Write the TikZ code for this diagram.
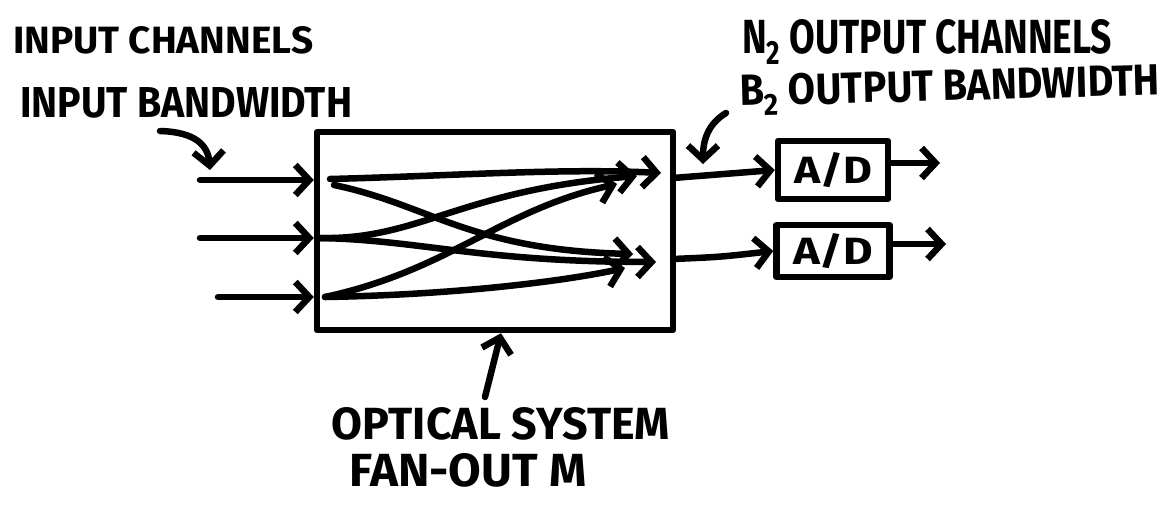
\documentclass[tikz,border=0pt]{standalone}
\usepackage{fontspec}
\setmainfont{Fira Sans}
\usetikzlibrary{arrows.meta}
\begin{document}
\begin{tikzpicture}[x=1pt,y=-1pt,
  ink/.style={line width=6.5pt, line cap=round, line join=round},
  arr/.style={ink, -{Straight Barb[length=14pt,width=30pt,line width=6.5pt]}},
  box/.style={ink, draw, rectangle, inner sep=0pt},
  lbl/.style={inner sep=0pt, font=\bfseries\fontsize{34}{38}\selectfont},
  adlbl/.style={font=\bfseries\fontsize{30}{34}\selectfont}]
\useasboundingbox (0,0) rectangle (1172,514);
% labels
\node[lbl, anchor=base west] (tin1) at (13,53) {\resizebox{300pt}{27pt}{INPUT CHANNELS}};
\node[lbl, anchor=base west] (tin2) at (20,117) {\resizebox{332pt}{30pt}{INPUT BANDWIDTH}};
\node[lbl, anchor=base west] (tout1) at (742,53) {\resizebox{370pt}{34pt}{N\textsubscript{2} OUTPUT CHANNELS}};
\node[lbl, anchor=base west, rotate=1.5] (tout2) at (740,106) {\resizebox{420pt}{31pt}{B\textsubscript{2} OUTPUT BANDWIDTH}};
\node[lbl] (topt) at (501,424) {\resizebox{338pt}{32pt}{OPTICAL SYSTEM}};
\node[lbl] (tfan) at (468,470) {\resizebox{237pt}{33pt}{FAN-OUT M}};
% optical box
\node[box, minimum width=356pt, minimum height=198pt] (opt) at (495,231) {};
% A/D boxes
\node[box, minimum width=110pt, minimum height=58pt, adlbl] (ad1) at (833,170) {\resizebox{78pt}{31pt}{A/D}};
\node[box, minimum width=113pt, minimum height=52pt, adlbl] (ad2) at (833,251) {\resizebox{80pt}{31pt}{A/D}};
% input arrows
\coordinate (s1) at (200,180);
\coordinate (s2) at (200,238);
\coordinate (s3) at (218,297);
\draw[arr] (s1) -- (s1 -| opt.west);
\draw[arr] (s2) -- (s2 -| opt.west);
\draw[arr] (s3) -- (s3 -| opt.west);
% input label pointer
\coordinate (p1) at (160,131);
\coordinate (p2) at (210,170);
\draw[arr] (p1) .. controls (195,132) and (208,145) .. (p2);
% fan-out curves
\coordinate (a1) at (330,179);
\coordinate (a1b) at (334,185);
\coordinate (a2) at (320,238);
\coordinate (a3) at (325,297);
\coordinate (b11) at (661,173);
\coordinate (b12) at (637,176);
\coordinate (b13) at (617,184);
\coordinate (b21) at (633,254);
\coordinate (b22) at (656,262);
\coordinate (b23) at (625,268);
\draw[arr] (a1) .. controls (450,176) and (560,168) .. (b11);
\draw[arr] (a2) .. controls (420,240) and (460,190) .. (b12);
\draw[arr] (a3) .. controls (450,270) and (500,210) .. (b13);
\draw[arr] (a1b) .. controls (430,205) and (470,250) .. (b21);
\draw[arr] (a2) .. controls (420,240) and (480,262) .. (b22);
\draw[arr] (a3) .. controls (450,295) and (560,282) .. (b23);
% output lines
\coordinate (o1) at (673,178);
\coordinate (o2) at (673,259);
\draw[arr] (o1) -- (ad1.west);
\draw[arr] (o2) .. controls (720,257) .. (ad2.west);
% output arrows
\coordinate (e1) at (940,163);
\coordinate (e2) at (946,244);
\draw[arr] (ad1.east |- e1) -- (e1);
\draw[arr] (ad2.east |- e2) -- (e2);
% B2 pointer
\coordinate (q1) at (726,113);
\coordinate (q2) at (703,164);
\draw[arr] (q1) .. controls (708,124) and (703,140) .. (q2);
% optical pointer
\coordinate (r1) at (485,397);
\draw[arr] (r1) -- (opt.south -| 501,0);
\end{tikzpicture}
\end{document}
